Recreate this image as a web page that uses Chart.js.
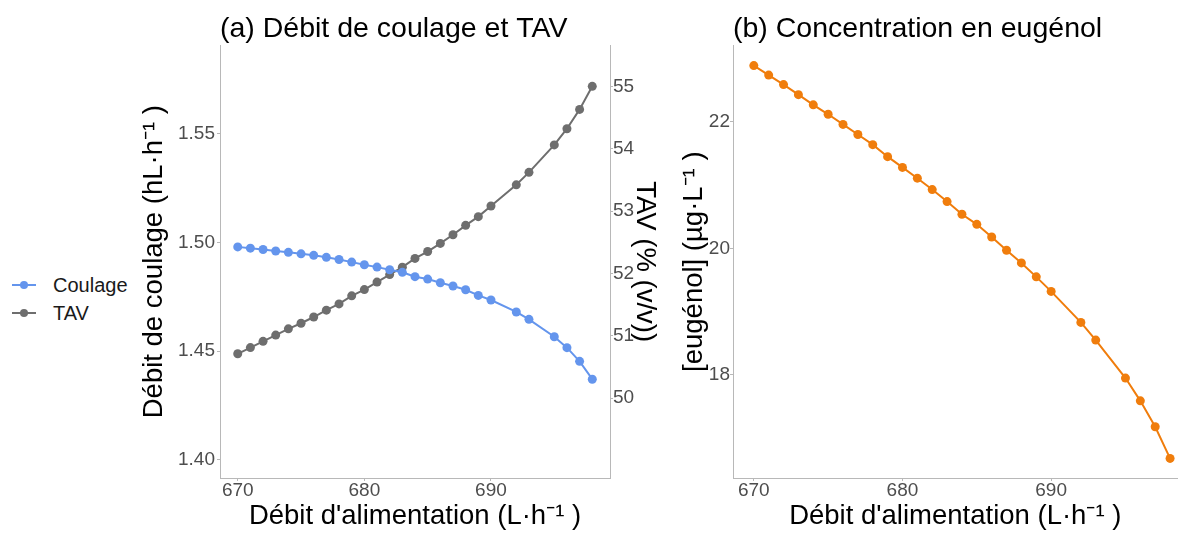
<!DOCTYPE html>
<html>
<head>
    <title>Débit de coulage, TAV et eugénol</title>
    <meta charset="UTF-8">
    <script src="https://cdn.jsdelivr.net/npm/chart.js"></script>
    <style>
        body { margin: 0; background: #fff; font-family: 'Liberation Sans', Arial, sans-serif; }
        #wrap { position: relative; width: 1182px; height: 533px; overflow: hidden; }
        #left { position: absolute; left: 130px; top: 0; }
        #right { position: absolute; left: 670px; top: 0; }
        .leg { position: absolute; left: 12px; font-size: 20px; color: #1a1a1a; height: 24px; line-height: 24px; }
        .leg .ln { position: absolute; left: 0; top: 11px; width: 24px; height: 2px; }
        .leg .pt { position: absolute; left: 8px; top: 8px; width: 8px; height: 8px; border-radius: 50%; }
        .leg .tx { position: absolute; left: 41px; top: 0; white-space: nowrap; }
    </style>
</head>
<body>
<div id="wrap">
    <canvas id="left" width="540" height="533"></canvas>
    <canvas id="right" width="512" height="533"></canvas>
    <div class="leg" style="top:273px"><span class="ln" style="background:#6495ed"></span><span class="pt" style="background:#6495ed"></span><span class="tx">Coulage</span></div>
    <div class="leg" style="top:301px"><span class="ln" style="background:#6e6e6e"></span><span class="pt" style="background:#6e6e6e"></span><span class="tx">TAV</span></div>
</div>
<script>
    // données
    var debit = [670, 671, 672, 673, 674, 675, 676, 677, 678, 679, 680, 681, 682, 683, 684,
                 685, 686, 687, 688, 689, 690, 692, 693, 695, 696, 697, 698];
    var coulage = [1.4979, 1.4973, 1.4967, 1.4960, 1.4954, 1.4947, 1.4940, 1.4931, 1.4921, 1.4909,
                   1.4897, 1.4886, 1.4874, 1.4862, 1.4842, 1.4831, 1.4814, 1.4799, 1.4782, 1.4756,
                   1.4735, 1.4680, 1.4646, 1.4566, 1.4516, 1.4453, 1.4371];
    var tav = [50.71, 50.81, 50.91, 51.01, 51.11, 51.20, 51.30, 51.41, 51.51, 51.64,
               51.74, 51.86, 51.98, 52.10, 52.24, 52.35, 52.48, 52.62, 52.77, 52.91,
               53.08, 53.42, 53.62, 54.06, 54.32, 54.63, 55.00];
    var eugenol = [22.89, 22.74, 22.59, 22.43, 22.27, 22.12, 21.96, 21.80, 21.64, 21.45,
                   21.28, 21.11, 20.93, 20.74, 20.54, 20.38, 20.18, 19.97, 19.77, 19.55,
                   19.32, 18.83, 18.55, 17.95, 17.59, 17.18, 16.68];

    var xTicks = [670, 680, 690];
    var coulageTicks = [1.40, 1.45, 1.50, 1.55];
    var tavTicks = [50, 51, 52, 53, 54, 55];
    var eugenolTicks = [18, 20, 22];

    Chart.defaults.font.family = "'Liberation Sans', Arial, sans-serif";

    var axisGrey = '#b8b8b8';
    var tickGrey = '#4d4d4d';
    var titleSize = 27.5;

    function pts(ys) {
        return debit.map(function (x, i) { return { x: x, y: ys[i] }; });
    }
    function fixTicks(list) {
        return function (scale) {
            scale.ticks = list.map(function (v) { return { value: v }; });
        };
    }
    function xAxis(min, max) {
        return {
            type: 'linear', position: 'bottom', min: min, max: max,
            afterBuildTicks: fixTicks(xTicks),
            afterFit: function (s) { s.height = 55; },
            grid: { display: true, drawOnChartArea: false, tickLength: 3, color: axisGrey },
            border: { color: axisGrey, width: 1 },
            ticks: { font: { size: 19 }, color: tickGrey, padding: -2, maxRotation: 0 },
            title: { display: true, text: "Débit d'alimentation (L·h⁻¹ )", font: { size: titleSize }, color: '#000', padding: { top: 0, bottom: 0 } }
        };
    }
    function lineSet(label, ys, color, axis) {
        return {
            label: label, data: pts(ys), yAxisID: axis,
            borderColor: color, backgroundColor: color, borderWidth: 2,
            pointRadius: 4.5, pointBorderWidth: 0, pointBackgroundColor: color,
            fill: false, tension: 0
        };
    }
    function chartTitle(text) {
        return {
            display: true, text: text, align: 'start', fullSize: false,
            font: { size: 28.5, weight: 'normal', lineHeight: 1.1 }, color: '#000',
            padding: { top: 13, bottom: 1 }
        };
    }

    // (a) débit de coulage et TAV
    new Chart(document.getElementById('left').getContext('2d'), {
        type: 'line',
        data: {
            datasets: [
                lineSet('Coulage', coulage, '#6495ed', 'y'),
                lineSet('TAV', tav, '#6e6e6e', 'y1')
            ]
        },
        options: {
            responsive: false,
            animation: false,
            layout: { padding: 0 },
            plugins: {
                legend: { display: false },
                tooltip: { enabled: false },
                title: chartTitle('(a) Débit de coulage et TAV')
            },
            scales: {
                x: xAxis(668.6, 699.4),
                y: {
                    position: 'left', min: 1.3917, max: 1.5905,
                    afterBuildTicks: fixTicks(coulageTicks),
                    afterFit: function (s) { s.width = 90; },
                    grid: { display: true, drawOnChartArea: false, tickLength: 3, color: axisGrey },
                    border: { color: axisGrey, width: 1 },
                    ticks: { font: { size: 19 }, color: tickGrey, padding: 2, callback: function (v) { return v.toFixed(2); } },
                    title: { display: true, text: 'Débit de coulage (hL·h⁻¹ )', font: { size: titleSize }, color: '#000', padding: { top: 7.5, bottom: 0 } }
                },
                y1: {
                    position: 'right', min: 48.718, max: 55.657,
                    afterBuildTicks: fixTicks(tavTicks),
                    afterFit: function (s) { s.width = 60; },
                    grid: { display: true, drawOnChartArea: false, tickLength: 3, color: axisGrey },
                    border: { color: axisGrey, width: 1 },
                    ticks: { font: { size: 19 }, color: tickGrey, padding: 0 },
                    title: { display: true, text: 'TAV (% (v/v))', font: { size: titleSize }, color: '#000', padding: { top: 8.5, bottom: 0 } }
                }
            }
        }
    });

    // (b) concentration en eugénol
    new Chart(document.getElementById('right').getContext('2d'), {
        type: 'line',
        data: {
            datasets: [lineSet('Eugénol', eugenol, '#f07d0c', 'y')]
        },
        options: {
            responsive: false,
            animation: false,
            layout: { padding: 0 },
            plugins: {
                legend: { display: false },
                tooltip: { enabled: false },
                title: chartTitle('(b) Concentration en eugénol')
            },
            scales: {
                x: xAxis(668.6, 698.5),
                y: {
                    position: 'left', min: 16.37, max: 23.21,
                    afterBuildTicks: fixTicks(eugenolTicks),
                    afterFit: function (s) { s.width = 63; },
                    grid: { display: true, drawOnChartArea: false, tickLength: 3, color: axisGrey },
                    border: { color: axisGrey, width: 1 },
                    ticks: { font: { size: 19 }, color: tickGrey, padding: 0 },
                    title: { display: true, text: '[eugénol] (µg·L⁻¹ )', font: { size: titleSize }, color: '#000', padding: { top: 7.5, bottom: 0 } }
                }
            }
        }
    });
</script>
</body>
</html>
